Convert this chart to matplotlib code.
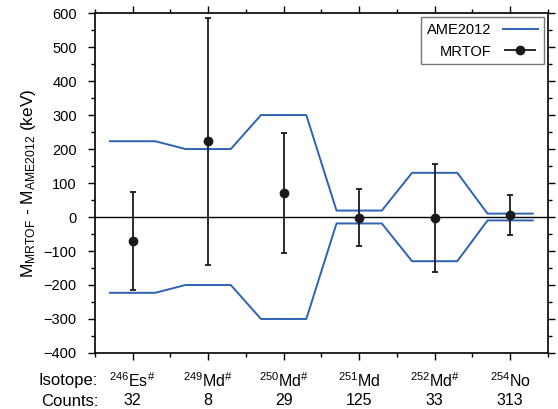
import numpy as np
import matplotlib
matplotlib.use("Agg")
import matplotlib.pyplot as plt
from matplotlib.ticker import MultipleLocator
from matplotlib.legend_handler import HandlerErrorbar
import matplotlib.transforms as mtransforms

plt.rcParams['font.family'] = ['Liberation Sans', 'DejaVu Sans']
plt.rcParams['mathtext.fontset'] = 'custom'
plt.rcParams['mathtext.rm'] = 'Liberation Sans'
plt.rcParams['mathtext.it'] = 'Liberation Sans:italic'
plt.rcParams['mathtext.bf'] = 'Liberation Sans:bold'

# data
isotopes = [r'$^{246}$Es$^{\#}$', r'$^{249}$Md$^{\#}$', r'$^{250}$Md$^{\#}$',
            r'$^{251}$Md', r'$^{252}$Md$^{\#}$', r'$^{254}$No']
counts = [32, 8, 29, 125, 33, 313]
mrtof = [-70, 223, 71, -2, -3, 7]
mrtof_err = [145, 364, 177, 83, 160, 59]
ame_unc = [223, 200, 300, 19, 130, 10]

x = np.arange(len(isotopes))
half = 0.3

# AME2012 band: flat over each isotope, joined in between
band_x = np.ravel(np.column_stack([x - half, x + half]))
band_u = np.repeat(ame_unc, 2)

fig = plt.figure(figsize=(5.58, 4.09), dpi=100)
ax = fig.add_axes([0.170, 0.137, 0.812, 0.831])

blue = '#2D62B5'
dark = '#1a1a1a'
ax.axhline(0, color='black', lw=1.0, zorder=1)
ame_line, = ax.plot(band_x, band_u, color=blue, lw=1.4)
ax.plot(band_x, -band_u, color=blue, lw=1.4)
ax.errorbar(x, mrtof, yerr=mrtof_err, fmt='o', color=dark, ms=6,
            elinewidth=1.3, capsize=2.5, capthick=1.3, zorder=3)

# proxy with horizontal bars, only for the legend
proxy = ax.errorbar([], [], xerr=[], fmt='o', color=dark, ms=6,
                    elinewidth=1.3, capsize=2.5, capthick=1.3)

ax.set_xlim(-0.5, 5.5)
ax.set_ylim(-400, 600)
ax.xaxis.set_major_locator(MultipleLocator(1))
ax.xaxis.set_minor_locator(MultipleLocator(0.5))
ax.yaxis.set_major_locator(MultipleLocator(100))
ax.yaxis.set_minor_locator(MultipleLocator(50))
ax.tick_params(which='both', direction='out', top=True, right=True,
               labelbottom=False, labelsize=10.5, width=1.0)
ax.tick_params(axis='y', pad=8)
ax.tick_params(which='major', length=5)
ax.tick_params(which='minor', length=3)
for s in ax.spines.values():
    s.set_linewidth(1.2)

ax.set_ylabel(r'$\mathrm{M_{MRTOF}}$ - $\mathrm{M_{AME2012}}$ (keV)', fontsize=12.5, labelpad=4)

trans = mtransforms.blended_transform_factory(ax.transData, ax.transAxes)
for xi, iso, c in zip(x, isotopes, counts):
    ax.text(xi, -0.082, iso, transform=trans, ha='center', va='center', fontsize=11.5)
    ax.text(xi, -0.141, str(c), transform=trans, ha='center', va='center', fontsize=11.5)
fig.text(98 / 558, 1 - 381 / 409, 'Isotope:', ha='right', va='center', fontsize=12)
fig.text(98 / 558, 1 - 401 / 409, 'Counts:', ha='right', va='center', fontsize=12)

leg = ax.legend([ame_line, proxy], ['AME2012', 'MRTOF'], loc='upper right',
                markerfirst=False, fancybox=False, fontsize=10.5,
                borderaxespad=0.3, handlelength=2.4,
                handler_map={proxy: HandlerErrorbar(xerr_size=1.1)})
leg.get_frame().set_edgecolor('#555555')
leg.get_frame().set_linewidth(1.0)

fig.savefig('out.png', dpi=100)
